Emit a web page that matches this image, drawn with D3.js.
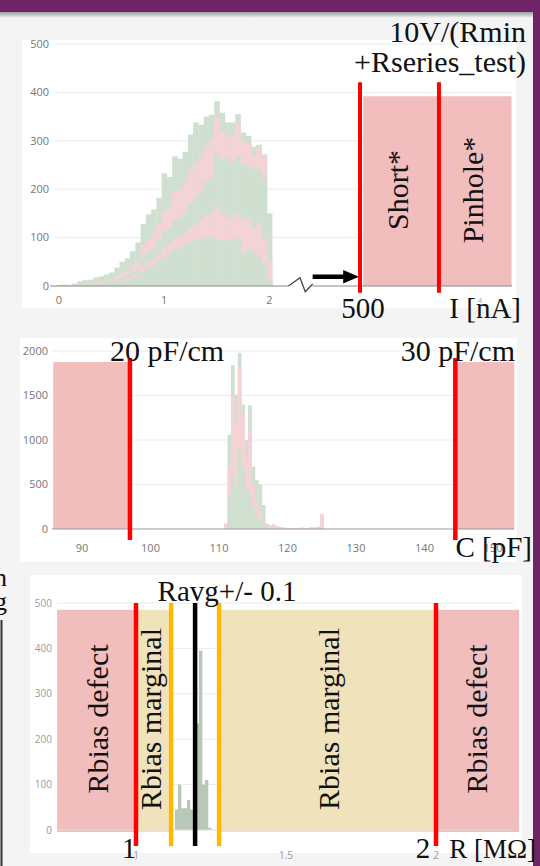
<!DOCTYPE html>
<html>
<head>
<meta charset="utf-8">
<script src="https://cdn.jsdelivr.net/npm/d3@7"></script>
<style>
  html, body { margin: 0; padding: 0; background: #f4f4f4; }
  svg { display: block; }
  .tk { font-family: "Open Sans", sans-serif; font-size: 11px; fill: #777; }
  .serif { font-family: "Liberation Serif", serif; fill: #111; }
</style>
</head>
<body>
<div id="chart"></div>
<script>
// ---- panel 1: leakage current I [nA] ----
const iCenters = [0, 0.05, 0.1, 0.15, 0.2, 0.25, 0.3, 0.35, 0.4, 0.45, 0.5, 0.55, 0.6, 0.65, 0.7, 0.75, 0.8, 0.85, 0.9, 0.95,
  1, 1.05, 1.1, 1.15, 1.2, 1.25, 1.3, 1.35, 1.4, 1.45, 1.5, 1.55, 1.6, 1.65, 1.7, 1.75, 1.8, 1.85, 1.9, 1.95, 2];
const iTotal    = [2, 3, 2, 5, 10, 12, 13, 18, 20, 24, 28, 38, 50, 57, 72, 90, 128, 148, 158, 182, 233, 225, 268, 263, 277, 313, 338, 333, 350, 354, 382, 358, 338, 338, 355, 317, 310, 288, 292, 272, 150];
const iPinkHi   = [0, 1, 1, 2, 3, 4, 6, 8, 10, 12, 14, 20, 27, 32, 42, 50, 85, 95, 110, 130, 155, 165, 195, 200, 215, 240, 255, 265, 290, 305, 350, 320, 310, 310, 338, 300, 295, 270, 285, 270, 52];
const iGreenMid = [0, 0, 0, 1, 2, 3, 4, 5, 6, 8, 10, 14, 19, 23, 30, 36, 60, 70, 78, 95, 112, 118, 135, 140, 150, 170, 185, 195, 215, 225, 275, 260, 265, 255, 270, 250, 250, 240, 240, 225, 12];
const iPinkLo   = [0, 0, 0, 0, 1, 1, 2, 3, 4, 5, 6, 9, 13, 16, 21, 26, 42, 50, 56, 68, 80, 88, 98, 103, 108, 120, 130, 138, 148, 150, 165, 150, 142, 140, 150, 135, 140, 120, 130, 100, 0];
const iGreenLo  = [0, 0, 0, 0, 0, 1, 1, 2, 3, 4, 5, 7, 10, 12, 16, 20, 30, 38, 43, 52, 60, 67, 75, 80, 84, 90, 95, 98, 100, 100, 95, 95, 92, 95, 100, 65, 75, 70, 60, 48, 0];
const iYTicks = [0, 100, 200, 300, 400, 500];
const iXTicks = [0, 1, 2, 3, 4];
const iLimits = [2.86, 3.61];          // Short / Pinhole boundaries (broken axis)
const iBox = [2.89, 4.3, 392];

// ---- panel 2: capacitance C [pF] ----
const cCenters = [111, 111.5, 112, 112.5, 113, 113.5, 114, 114.5, 115, 115.5, 116, 116.5, 117, 117.5, 118, 118.5, 119, 119.5,
  120, 120.5, 121, 121.5, 122, 122.5, 123, 123.5, 124, 124.5, 125];
const cTotal   = [60, 1060, 1840, 1510, 1980, 1400, 1000, 1390, 700, 550, 500, 270, 60, 40, 50, 30, 20, 15, 10, 10, 8, 10, 15, 10, 12, 20, 15, 25, 165];
const cPink    = [60, 700, 1500, 1200, 1800, 1300, 800, 1100, 500, 300, 200, 100, 30, 40, 50, 30, 20, 15, 10, 10, 8, 10, 15, 10, 12, 20, 15, 25, 165];
const cGreenIn = [0, 350, 600, 500, 900, 700, 450, 400, 250, 150, 100, 50, 10, 0, 0, 0, 0, 0, 0, 0, 0, 0, 0, 0, 0, 0, 0, 0, 0];
const cYTicks = [0, 500, 1000, 1500, 2000];
const cXTicks = [90, 100, 110, 120, 130, 140, 150];
const cLimits = [97, 144.5];          // 20 pF/cm, 30 pF/cm
const cBoxes = [[85.8, 96.9], [144.7, 153.1]];
const cBoxTop = 1876;

// ---- panel 3: bias resistance R [MOhm] ----
const rCenters = [1.135, 1.145, 1.155, 1.165, 1.175, 1.185, 1.195, 1.205, 1.215, 1.225, 1.235, 1.245];
const rCounts  = [45, 100, 48, 48, 66, 45, 40, 235, 395, 100, 110, 5];
const rYTicks = [0, 100, 200, 300, 400, 500];
const rXTicks = [1, 1.5, 2];
const rLimits = [1, 2];
const rAvg = 1.197;
const rBand = [1.117, 1.277];
const rDefect = [[0.737, 1], [2, 2.277]];
const rMarginal = [[1, 1.117], [1.277, 2]];
const rBoxTop = 485;

const GREEN = "#cfe0d1", PINK = "#f3d3d5", BOX = "#f2bdbd", YEL = "#f0e3bb";

const svg = d3.select("#chart").append("svg").attr("width", 540).attr("height", 866);
svg.append("rect").attr("width", 540).attr("height", 866).attr("fill", "#f4f4f4");

function grid(x0, x1, y, ticks, lblRight, cls) {
  const g = svg.append("g");
  g.selectAll("line").data(ticks.filter(t => t > 0)).join("line")
    .attr("x1", x0).attr("x2", x1).attr("y1", d => y(d)).attr("y2", d => y(d))
    .attr("stroke", "#ececec").attr("stroke-width", 1);
  g.selectAll("text").data(ticks).join("text").attr("class", "tk")
    .attr("x", lblRight).attr("y", d => y(d)).attr("dy", "0.35em")
    .attr("text-anchor", "end").text(d => d).style("font-size", cls.size).style("fill", cls.fill);
}

function bars(x, y, centers, vals, w, color) {
  svg.append("g").selectAll("rect")
    .data(centers.map((c, i) => ({ c, v: vals[i] })).filter(d => d.v > 0))
    .join("rect")
    .attr("x", d => x(d.c - w / 2))
    .attr("width", d => x(d.c + w / 2) - x(d.c - w / 2) + 0.3)
    .attr("y", d => y(d.v))
    .attr("height", d => y(0) - y(d.v))
    .attr("fill", color);
}

function vline(x, y, v, y0, y1, color, w) {
  svg.append("line").attr("x1", x(v)).attr("x2", x(v)).attr("y1", y(y0)).attr("y2", y(y1))
    .attr("stroke", color).attr("stroke-width", w);
}

function serif(txt, x, y, size, anchor) {
  return svg.append("text").attr("class", "serif").attr("x", x).attr("y", y)
    .attr("text-anchor", anchor || "start").style("font-size", size + "px").text(txt);
}

function vtext(txt, x, y, size) {
  return svg.append("text").attr("class", "serif")
    .attr("transform", `translate(${x},${y}) rotate(-90)`)
    .attr("text-anchor", "middle").attr("dominant-baseline", "central")
    .style("font-size", size + "px").text(txt);
}

// ========== panel 1 ==========
svg.append("rect").attr("x", 22).attr("y", 40).attr("width", 494).attr("height", 268).attr("fill", "#fff");
const x1 = d3.scaleLinear().domain([0, 4]).range([59, 480]);
const y1 = d3.scaleLinear().domain([0, 500]).range([286, 44]);
grid(55, 512, y1, iYTicks, 49, { size: "11px", fill: "#777" });

bars(x1, y1, iCenters, iTotal, 0.05, GREEN);
bars(x1, y1, iCenters, iPinkHi, 0.05, PINK);
bars(x1, y1, iCenters, iGreenMid, 0.05, GREEN);
bars(x1, y1, iCenters, iPinkLo, 0.05, PINK);
bars(x1, y1, iCenters, iGreenLo, 0.05, GREEN);

svg.append("rect").attr("x", x1(iBox[0])).attr("y", y1(iBox[2]))
  .attr("width", x1(iBox[1]) - x1(iBox[0])).attr("height", y1(0) - y1(iBox[2])).attr("fill", BOX);

// zero line with axis break
svg.append("line").attr("x1", 50).attr("x2", x1(2.18)).attr("y1", y1(0)).attr("y2", y1(0)).attr("stroke", "#888");
svg.append("line").attr("x1", x1(2.41)).attr("x2", 512).attr("y1", y1(0)).attr("y2", y1(0)).attr("stroke", "#888");
svg.append("path")
  .attr("d", d3.line()([[x1(2.18), y1(0)], [x1(2.29), y1(17)], [x1(2.34), y1(-12)], [x1(2.41), y1(4)]]))
  .attr("fill", "none").attr("stroke", "#444").attr("stroke-width", 1.3);

svg.append("g").selectAll("text").data(iXTicks).join("text").attr("class", "tk")
  .attr("x", d => x1(d)).attr("y", 300).attr("dy", "0.35em").attr("text-anchor", "middle")
  .style("fill", d => d > 2 ? "#aaa" : "#777").style("font-size", d => d > 2 ? "8px" : "11px").text(d => d);

// arrow to 500 nA
svg.append("line").attr("x1", x1(2.41)).attr("x2", x1(2.72)).attr("y1", y1(19)).attr("y2", y1(19))
  .attr("stroke", "#000").attr("stroke-width", 4.5);
svg.append("path").attr("d", d3.line()([[x1(2.7), y1(33)], [x1(2.85), y1(19)], [x1(2.7), y1(5)]]) + "Z").attr("fill", "#000");

iLimits.forEach(v => vline(x1, y1, v, 421, -14, "#ff0000", 4));

serif("10V/(Rmin", 526, 42, 30, "end");
serif("+Rseries_test)", 526, 72, 30, "end");
vtext("Short*", x1(3.22), 190, 30);
vtext("Pinhole*", x1(3.93), 190, 30);
serif("500", 363, 318, 29, "middle");
serif("I [nA]", 521, 318, 29, "end");

// ========== panel 2 ==========
svg.append("rect").attr("x", 20).attr("y", 338).attr("width", 497).attr("height", 224).attr("fill", "#fff");
const x2 = d3.scaleLinear().domain([90, 150]).range([82, 493]);
const y2 = d3.scaleLinear().domain([0, 2000]).range([529, 351]);
grid(52, 514, y2, cYTicks, 48, { size: "11px", fill: "#777" });

cBoxes.forEach(b => svg.append("rect").attr("x", x2(b[0])).attr("y", y2(cBoxTop))
  .attr("width", x2(b[1]) - x2(b[0])).attr("height", y2(0) - y2(cBoxTop)).attr("fill", BOX));

bars(x2, y2, cCenters, cTotal, 0.5, GREEN);
bars(x2, y2, cCenters, cPink, 0.5, PINK);
bars(x2, y2, cCenters, cGreenIn, 0.5, GREEN);

svg.append("line").attr("x1", 52).attr("x2", 514).attr("y1", y2(0)).attr("y2", y2(0)).attr("stroke", "#999");
svg.append("g").selectAll("text").data(cXTicks).join("text").attr("class", "tk")
  .attr("x", d => x2(d)).attr("y", 548).attr("dy", "0.35em").attr("text-anchor", "middle").text(d => d);

cLimits.forEach(v => vline(x2, y2, v, 1921, -124, "#ff0000", 4.5));
serif("20 pF/cm", 110, 361, 30, "start");
serif("30 pF/cm", 515, 361, 30, "end");
serif("C [pF]", 532, 557, 29, "end");

// ========== panel 3 ==========
svg.append("rect").attr("x", 30).attr("y", 575).attr("width", 492).attr("height", 278).attr("fill", "#fff");
const x3 = d3.scaleLinear().domain([1, 2]).range([136, 436]);
const y3 = d3.scaleLinear().domain([0, 500]).range([830, 603]);
grid(57, 514, y3, rYTicks, 52, { size: "10px", fill: "#999" });

rDefect.forEach(b => svg.append("rect").attr("x", x3(b[0])).attr("y", y3(rBoxTop))
  .attr("width", x3(b[1]) - x3(b[0])).attr("height", y3(0) - y3(rBoxTop) + 2).attr("fill", BOX));
rMarginal.forEach(b => svg.append("rect").attr("x", x3(b[0])).attr("y", y3(rBoxTop))
  .attr("width", x3(b[1]) - x3(b[0])).attr("height", y3(0) - y3(rBoxTop) + 2).attr("fill", YEL));

bars(x3, y3, rCenters, rCounts, 0.01, "#b7c7b8");
svg.append("line").attr("x1", 57).attr("x2", 514).attr("y1", y3(0)).attr("y2", y3(0)).attr("stroke", "#ddd");

svg.append("g").selectAll("text").data(rXTicks).join("text").attr("class", "tk")
  .attr("x", d => x3(d)).attr("y", 855).attr("dy", "0.35em").attr("text-anchor", "middle")
  .style("font-size", "10px").style("fill", "#999").text(d => d);

rLimits.forEach(v => vline(x3, y3, v, 500, -35, "#ff0000", 4.5));
rBand.forEach(v => vline(x3, y3, v, 500, -35, "#ffb900", 4.5));
vline(x3, y3, rAvg, 500, -35, "#000", 4.5);

serif("Ravg+/- 0.1", 227, 601, 29, "middle");
vtext("Rbias defect", 97, 719, 30);
vtext("Rbias marginal", 150, 719, 30);
vtext("Rbias marginal", 328, 719, 30);
vtext("Rbias defect", 476, 719, 30);
serif("1", 129, 858, 29, "middle");
serif("2", 423, 858, 29, "middle");

// cut-off pieces at the left edge
serif("n", -6, 586, 26, "start");
serif("g", -6, 610, 26, "start");
svg.append("line").attr("x1", 1.5).attr("x2", 1.5).attr("y1", 620).attr("y2", 866).attr("stroke", "#333").attr("stroke-width", 2);

// ========== frame ==========
const grad = svg.append("defs").append("linearGradient").attr("id", "sh").attr("x1", 0).attr("x2", 0).attr("y1", 0).attr("y2", 1);
grad.append("stop").attr("offset", 0).attr("stop-color", "#777").attr("stop-opacity", 0.7);
grad.append("stop").attr("offset", 1).attr("stop-color", "#777").attr("stop-opacity", 0);
svg.append("rect").attr("x", 0).attr("y", 12).attr("width", 540).attr("height", 6).attr("fill", "url(#sh)");
svg.append("rect").attr("x", 0).attr("y", 0).attr("width", 540).attr("height", 12).attr("fill", "#6e2467");
svg.append("rect").attr("x", 533).attr("y", 0).attr("width", 7).attr("height", 866).attr("fill", "#6e2467");
serif("R [MΩ]", 536, 858, 27, "end");
</script>
</body>
</html>
